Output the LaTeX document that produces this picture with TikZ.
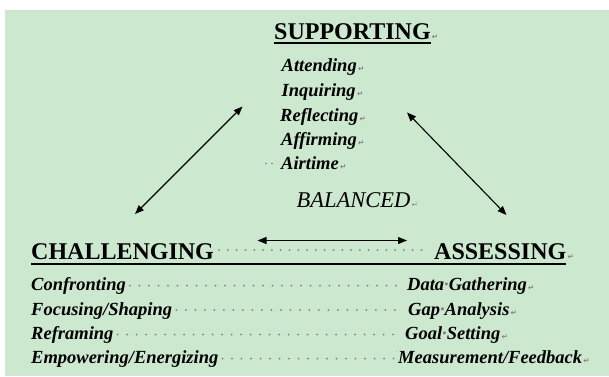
\documentclass[tikz,border=0pt]{standalone}
\usepackage{fontspec}
\setmainfont{Liberation Serif}
\newfontfamily\markfont{DejaVu Sans}
\usetikzlibrary{arrows.meta}
\definecolor{paper}{RGB}{204,232,207}
\definecolor{markgray}{RGB}{128,128,128}
% paragraph mark and space mark, as shown on screen
\newcommand{\pmark}{\rlap{\markfont\fontsize{7.5}{7.5}\selectfont\color{markgray}\,↵}}
\newcommand{\spmark}{{\color{markgray}·}}
\tikzset{%
heading/.style={anchor=base west,inner sep=0pt,font=\fontsize{24}{24}\selectfont\bfseries},
skill/.style={anchor=base west,inner sep=0pt,font=\fontsize{18.5}{18.5}\selectfont\bfseries\itshape},
leader/.style={markgray,line width=2pt,line cap=round,dash pattern=on 0pt off 9.5pt},
link/.style={<->,>={Triangle[length=9pt,width=7pt]},line width=1.1pt},
}

\begin{document}
\begin{tikzpicture}[x=1pt,y=-1pt]

\useasboundingbox[fill=white] (0,0) rectangle (609,376);
\fill[paper] (5,10) rectangle (609,376);

% top corner
\node[heading] (sup) at (274,39) {SUPPORTING\pmark};
\draw[line width=1.5pt] ([yshift=-4pt]sup.base west) -- ([yshift=-4pt]sup.base east);

\node[skill] (attend)  at (281.5,71.5)  {Attending\pmark};
\node[skill] (inquire) at (281.5,96)    {Inquiring\pmark};
\node[skill] (reflect) at (280,121)     {Reflecting\pmark};
\node[skill] (affirm)  at (281,145.5)   {Affirming\pmark};
\node[skill] (air)     at (281,169.5)   {Airtime\pmark};
\foreach \dx in {-15,-9}
   \fill[markgray] ([xshift=\dx pt,yshift=6pt]air.base west) circle (0.9pt);

\node[anchor=base west,inner sep=0pt,font=\fontsize{22.5}{22.5}\selectfont\itshape]
     (bal) at (296.5,207.5) {BALANCED\pmark};

% the three links
\coordinate (supL) at (242.5,106.5);
\coordinate (chalU) at (135,214);
\coordinate (supR) at (407,112.5);
\coordinate (assU) at (506.5,215);
\coordinate (balL) at (257.5,240.5);
\coordinate (balR) at (407,240.5);
\draw[link] (chalU) -- (supL);
\draw[link] (supR) -- (assU);
\draw[link] (balL) -- (balR);

% bottom corners
\node[heading] (chal) at (31,259.5) {CHALLENGING};
\node[heading] (assess) at (434,259.5) {ASSESSING\pmark};
\draw[leader,dash pattern=on 0pt off 8.8pt]
     ([xshift=5pt,yshift=9.5pt]chal.base east) -- ([xshift=-6pt,yshift=9.5pt]assess.base west);
\draw[line width=1.2pt] ([yshift=-4.5pt]chal.base west) -- ([yshift=-4.5pt]assess.base east);

\node[skill] (confront) at (31,290.5)  {Confronting};
\node[skill] (focus)    at (31,315)    {Focusing/Shaping};
\node[skill] (reframe)  at (31,339.5)  {Reframing};
\node[skill] (empower)  at (31,363.5)  {Empowering/Energizing};

\node[skill] (data)    at (407,290.5)  {Data\spmark Gathering\pmark};
\node[skill] (gap)     at (408,315)    {Gap\spmark Analysis\pmark};
\node[skill] (goal)    at (405,339.5)  {Goal\spmark Setting\pmark};
\node[skill] (measure) at (398,363.5)  {Measurement/Feedback\pmark};

\draw[leader] ([xshift=4pt,yshift=5pt]confront.base east) -- ([xshift=-4pt,yshift=5pt]data.base west);
\draw[leader] ([xshift=4pt,yshift=5pt]focus.base east)    -- ([xshift=-4pt,yshift=5pt]gap.base west);
\draw[leader] ([xshift=4pt,yshift=5pt]reframe.base east)  -- ([xshift=-4pt,yshift=5pt]goal.base west);
\draw[leader] ([xshift=4pt,yshift=5pt]empower.base east)  -- ([xshift=-4pt,yshift=5pt]measure.base west);

\end{tikzpicture}
\end{document}
